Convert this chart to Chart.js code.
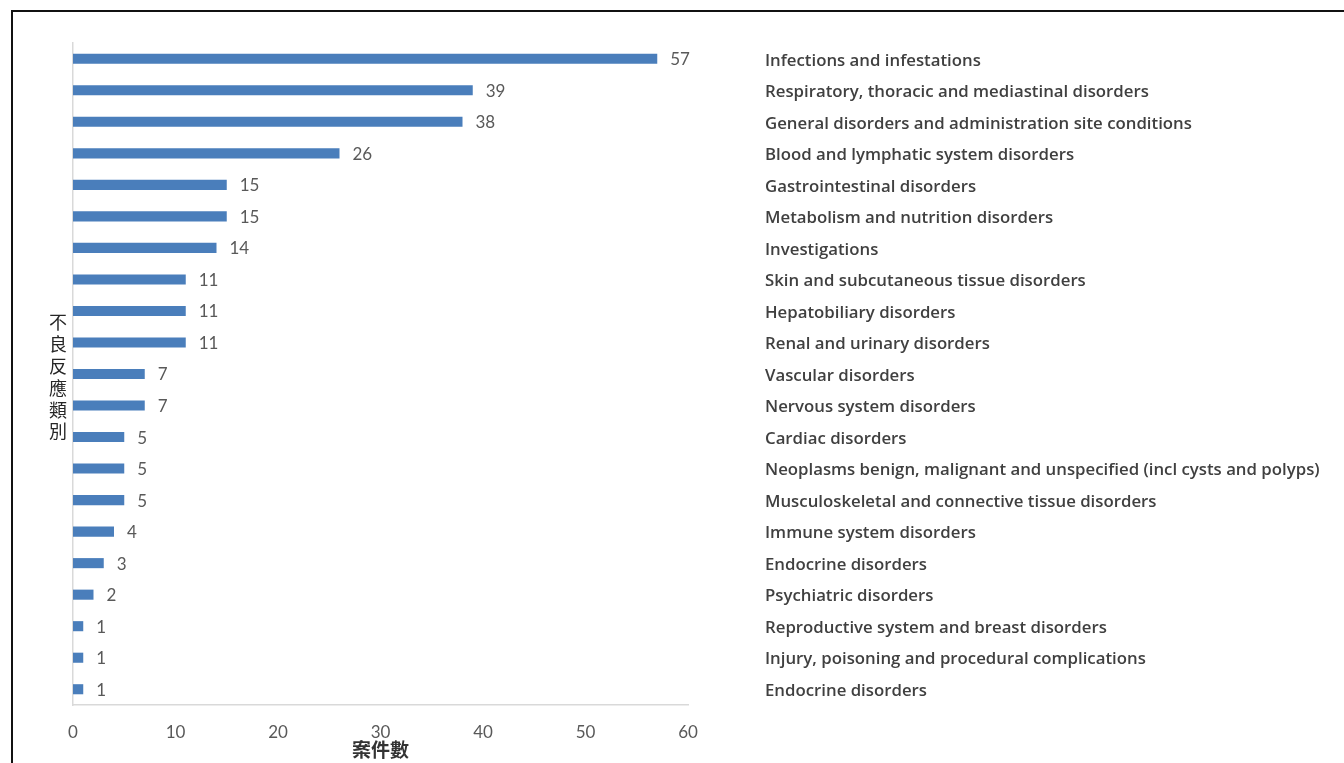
<!DOCTYPE html>
<html>
<head>
<meta charset="utf-8">
<script src="https://cdn.jsdelivr.net/npm/chart.js@4.4.1/dist/chart.umd.min.js"></script>
<style>
  html, body { margin: 0; padding: 0; background: #fff; }
  #wrap { position: relative; width: 1344px; height: 763px; overflow: hidden; }
  #frame { position: absolute; left: 11px; top: 10px; width: 1400px; height: 800px;
           border-top: 2px solid #111; border-left: 2px solid #111; pointer-events: none; }
  canvas { position: absolute; left: 0; top: 0; }
</style>
</head>
<body>
<div id="wrap">
  <canvas id="c" width="1344" height="763"></canvas>
  <div id="frame"></div>
</div>
<script>
// Adverse reaction categories (system organ class), top to bottom
const categories = [
  'Infections and infestations',
  'Respiratory, thoracic and mediastinal disorders',
  'General disorders and administration site conditions',
  'Blood and lymphatic system disorders',
  'Gastrointestinal disorders',
  'Metabolism and nutrition disorders',
  'Investigations',
  'Skin and subcutaneous tissue disorders',
  'Hepatobiliary disorders',
  'Renal and urinary disorders',
  'Vascular disorders',
  'Nervous system disorders',
  'Cardiac disorders',
  'Neoplasms benign, malignant and unspecified (incl cysts and polyps)',
  'Musculoskeletal and connective tissue disorders',
  'Immune system disorders',
  'Endocrine disorders',
  'Psychiatric disorders',
  'Reproductive system and breast disorders',
  'Injury, poisoning and procedural complications',
  'Endocrine disorders'
];

// Number of cases per category
const caseCounts = [57, 39, 38, 26, 15, 15, 14, 11, 11, 11, 7, 7, 5, 5, 5, 4, 3, 2, 1, 1, 1];

// Count axis ticks
const countTicks = [0, 10, 20, 30, 40, 50, 60];

// Axis titles
const categoryAxisTitle = ['不', '良', '反', '應', '類', '別'];
const countAxisTitle = '案件數';

const NUM_FONT = 'Lato, "Open Sans", sans-serif';
const LABEL_FONT = '"Open Sans", Lato, sans-serif';
const CJK_FONT = '"Noto Sans CJK TC", "Noto Sans CJK SC", sans-serif';

// Value labels at the end of each bar
const valueLabels = {
  id: 'valueLabels',
  afterDatasetsDraw(chart) {
    const ctx = chart.ctx;
    const meta = chart.getDatasetMeta(0);
    ctx.save();
    ctx.font = '17px ' + NUM_FONT;
    ctx.fillStyle = '#595959';
    ctx.textAlign = 'left';
    ctx.textBaseline = 'middle';
    meta.data.forEach((bar, i) => {
      ctx.fillText(String(caseCounts[i]), bar.x + 13, bar.y + 1);
    });
    ctx.restore();
  }
};

// Category axis title, written as upright stacked characters
const stackedAxisTitle = {
  id: 'stackedAxisTitle',
  afterDraw(chart) {
    const ctx = chart.ctx;
    const area = chart.chartArea;
    const step = 21.8;
    const cx = area.left - 15;
    const cy = 377;
    const y0 = cy - step * (categoryAxisTitle.length - 1) / 2;
    ctx.save();
    ctx.font = '18px ' + CJK_FONT;
    ctx.fillStyle = '#262626';
    ctx.textAlign = 'center';
    ctx.textBaseline = 'middle';
    categoryAxisTitle.forEach((ch, i) => ctx.fillText(ch, cx, y0 + i * step));
    ctx.restore();
  }
};

// Keep tick padding from inflating the chart-area margins
function clearPadding(scale) {
  scale.paddingTop = 0;
  scale.paddingBottom = 0;
  scale.paddingLeft = 0;
  scale.paddingRight = 0;
}

new Chart(document.getElementById('c'), {
  type: 'bar',
  data: {
    labels: categories,
    datasets: [{
      data: caseCounts,
      backgroundColor: '#4a7ebb',
      borderWidth: 0,
      barPercentage: 0.32,
      categoryPercentage: 1.0,
      yAxisID: 'y'
    }]
  },
  options: {
    indexAxis: 'y',
    responsive: false,
    animation: false,
    devicePixelRatio: 1,
    layout: { padding: { top: 43, left: 0, right: 0, bottom: 0 } },
    plugins: {
      legend: { display: false },
      tooltip: { enabled: false }
    },
    scales: {
      x: {
        type: 'linear',
        position: 'bottom',
        min: countTicks[0],
        max: countTicks[countTicks.length - 1],
        afterBuildTicks(scale) { scale.ticks = countTicks.map(v => ({ value: v })); },
        grid: { display: false, drawTicks: false },
        border: { display: true, color: '#d9d9d9', width: 1.5 },
        ticks: {
          padding: 17,
          color: '#595959',
          font: { family: NUM_FONT, size: 17 }
        },
        title: {
          display: true,
          text: countAxisTitle,
          color: '#333333',
          font: { family: CJK_FONT, size: 19, weight: 'bold' },
          padding: { top: 0, bottom: 2 }
        },
        afterFit(scale) { scale.height = 58; clearPadding(scale); }
      },
      y: {
        type: 'category',
        position: 'left',
        offset: true,
        grid: { display: false, drawTicks: false },
        border: { display: true, color: '#d9d9d9', width: 1.5 },
        ticks: { display: false },
        afterFit(scale) { scale.width = 73; clearPadding(scale); }
      },
      y2: {
        type: 'category',
        position: 'right',
        offset: true,
        grid: { display: false, drawTicks: false },
        border: { display: false },
        ticks: {
          autoSkip: false,
          padding: 77,
          labelOffset: 2,
          color: '#404040',
          font: { family: LABEL_FONT, size: 16.8, weight: '600' }
        },
        afterFit(scale) { scale.width = 656; clearPadding(scale); }
      }
    }
  },
  plugins: [valueLabels, stackedAxisTitle]
});
</script>
</body>
</html>
